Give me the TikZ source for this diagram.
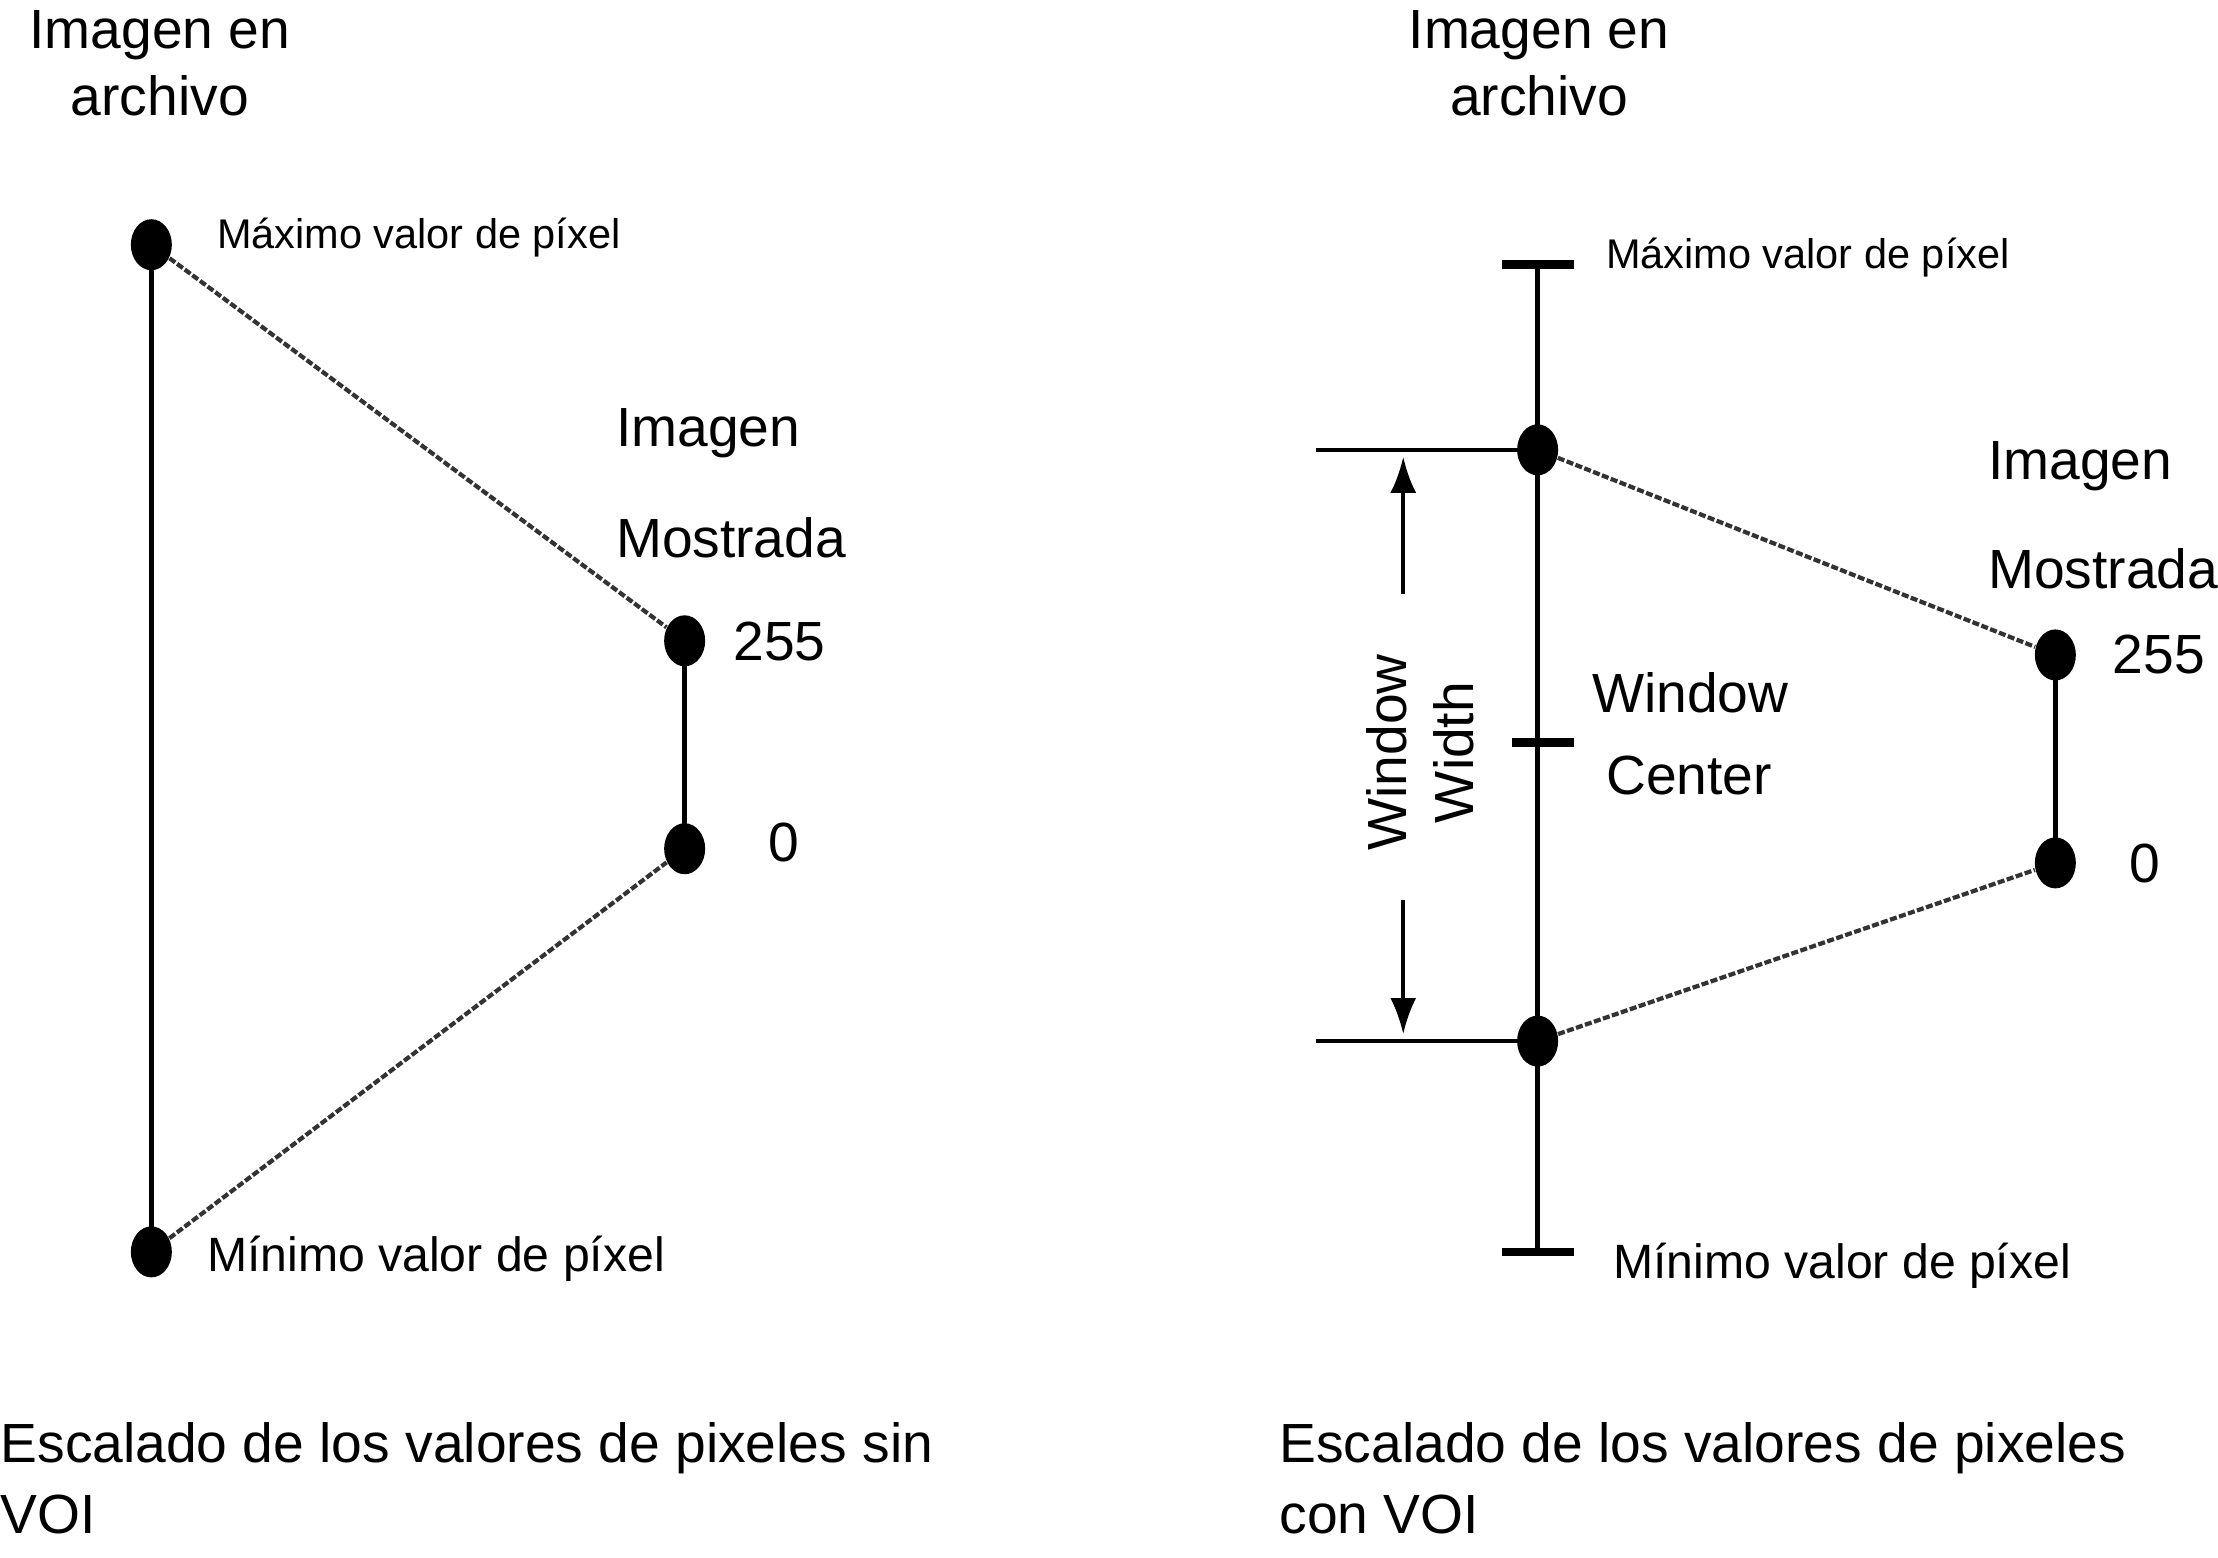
\documentclass[tikz,border=0pt]{standalone}
\usepackage{fontspec}
\setmainfont{Liberation Sans}
\usetikzlibrary{shapes.geometric,arrows.meta,calc}
\begin{document}
\begin{tikzpicture}[x=0.014145cm,y=-0.014145cm,
  dot/.style={ellipse,fill=black,inner sep=0pt,minimum width=0.41cm,minimum height=0.51cm},
  axisline/.style={line width=1.6pt,black},
  slant/.style={line width=1.2pt,black!80,dash pattern=on 2pt off 0.7pt},
  hline/.style={line width=1.1pt,black},
  tbar/.style={line width=2.4pt,black},
  arr/.style={line width=1pt,-{Latex[length=0.36cm,width=0.26cm]}},
  big/.style={font=\fontsize{15.7}{18}\selectfont,inner sep=0pt},
  maxlab/.style={font=\fontsize{11.8}{14}\selectfont,inner sep=0pt,anchor=base west},
  minlab/.style={font=\fontsize{13.7}{16}\selectfont,inner sep=0pt,anchor=base west}]
\useasboundingbox (0,0) rectangle (1568,1101);
% ---------- left diagram ----------
\node[dot] (Lmax) at (107,173) {};
\node[dot] (Lmin) at (107,885) {};
\node[dot] (L255) at (484,453) {};
\node[dot] (L0) at (484,600) {};
\draw[axisline] (Lmax.center) -- (Lmin.center);
\draw[axisline] (L255.center) -- (L0.center);
\draw[slant] (Lmax) -- (L255);
\draw[slant] (Lmin) -- (L0);
\node[big,anchor=base] (Lt1) at (113,34) {Imagen en};
\node[big,anchor=base] (Lt2) at (113,82) {archivo};
\node[maxlab] (Lmaxt) at (153,176) {Máximo valor de píxel};
\node[minlab] (Lmint) at (146,899) {Mínimo valor de píxel};
\node[big,anchor=base west] (Lim) at (435,316) {Imagen};
\node[big,anchor=base west] (Lmo) at (435,394) {Mostrada};
\node[big,anchor=base west] (L255t) at (518,467) {255};
\node[big,anchor=base west] (L0t) at (543,609) {0};
\node[big,anchor=base west] (Lc1) at (0,1034) {Escalado de los valores de pixeles sin};
\node[big,anchor=base west] (Lc2) at (0,1084) {VOI};
% ---------- right diagram ----------
\coordinate (Rtop) at (1087,187);
\coordinate (Rbot) at (1087,885);
\coordinate (Rmid) at (1087,525);
\node[dot] (Rhi) at (1087,318) {};
\node[dot] (Rlo) at (1087,736) {};
\node[dot] (R255) at (1453,463) {};
\node[dot] (R0) at (1453,610) {};
\draw[axisline] (Rtop) -- (Rbot);
\draw[tbar] ($(Rtop)+(-25,0)$) -- ($(Rtop)+(26,0)$);
\draw[tbar] ($(Rbot)+(-25,0)$) -- ($(Rbot)+(26,0)$);
\draw[tbar] ($(Rmid)+(-18,0)$) -- ($(Rmid)+(26,0)$);
\draw[axisline] (R255.center) -- (R0.center);
\draw[slant] (Rhi) -- (R255);
\draw[slant] (Rlo) -- (R0);
\coordinate (RhiL) at (930,318);
\coordinate (RloL) at (930,736);
\draw[hline] (RhiL) -- (Rhi.center);
\draw[hline] (RloL) -- (Rlo.center);
\coordinate (Aup0) at (992,420);
\coordinate (Aup1) at (992,323);
\coordinate (Adn0) at (992,636);
\coordinate (Adn1) at (992,731);
\draw[arr] (Aup0) -- (Aup1);
\draw[arr] (Adn0) -- (Adn1);
\node[big,rotate=90] (Rww1) at (980,532) {Window};
\node[big,rotate=90] (Rww2) at (1028,532) {Width};
\node[big,anchor=base] (Rt1) at (1088,34) {Imagen en};
\node[big,anchor=base] (Rt2) at (1088,82) {archivo};
\node[maxlab] (Rmaxt) at (1135,190) {Máximo valor de píxel};
\node[minlab] (Rmint) at (1140,904) {Mínimo valor de píxel};
\node[big,anchor=base west] (Rwc1) at (1125,504) {Window};
\node[big,anchor=base west] (Rwc2) at (1135,562) {Center};
\node[big,anchor=base west] (Rim) at (1405,339) {Imagen};
\node[big,anchor=base west] (Rmo) at (1405,416) {Mostrada};
\node[big,anchor=base west] (R255t) at (1493,476) {255};
\node[big,anchor=base west] (R0t) at (1505,624) {0};
\node[big,anchor=base west] (Rc1) at (904,1034) {Escalado de los valores de pixeles};
\node[big,anchor=base west] (Rc2) at (904,1084) {con VOI};
\end{tikzpicture}
\end{document}
